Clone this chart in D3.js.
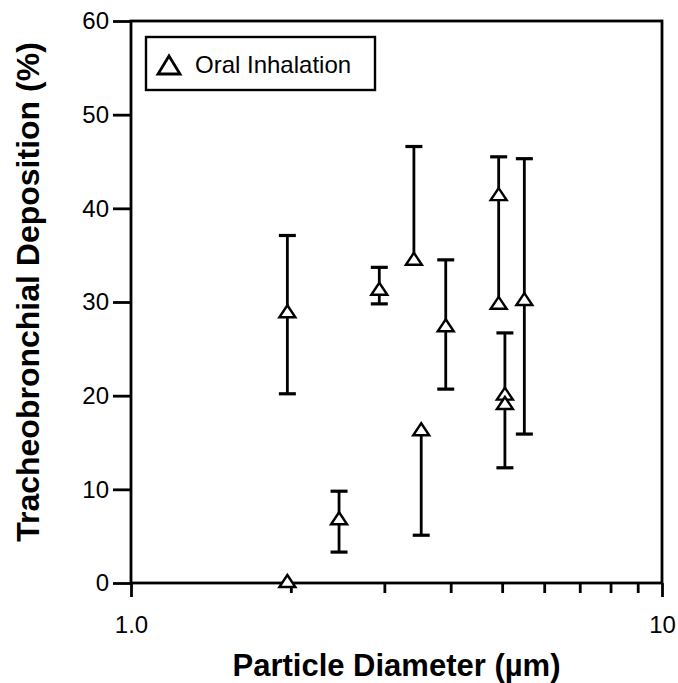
<!DOCTYPE html>
<html>
<head>
<meta charset="utf-8">
<script src="https://cdn.jsdelivr.net/npm/d3@7"></script>
<style>
  html, body { margin: 0; padding: 0; background: #fff; }
  svg { display: block; font-family: "Liberation Sans", Arial, Helvetica, sans-serif; }
</style>
</head>
<body>
<svg id="chart" width="678" height="683"></svg>
<script>
// ---- Data ----
const diameters  = [1.97, 1.97, 2.465, 2.935, 3.41, 3.52, 3.915, 4.925, 4.925, 5.06, 5.06, 5.505];
const deposition = [28.8, 0.0,  6.7,   31.2,  34.4, 16.2, 27.3,  41.3,  29.7,  20.0, 19.0, 30.1];
const errLow     = [20.2, null, 3.3,   29.8,  null, 5.1,  20.7,  null,  null,  null, 12.3, 15.9];
const errHigh    = [37.1, null, 9.8,   33.7,  46.6, null, 34.5,  null,  45.5,  26.7, null, 45.3];
const xMajorTicks = [1, 10];
const xMajorLabels = ["1.0", "10"];
const xMinorTicks = [2, 3, 4, 5, 6, 7, 8, 9];
const yTicks = [0, 10, 20, 30, 40, 50, 60];
const seriesName = "Oral Inhalation";
const xTitle = "Particle Diameter (µm)";
const yTitle = "Tracheobronchial Deposition (%)";

(function () {
const points = diameters.map((d, i) => ({ x: d, y: deposition[i], lo: errLow[i], hi: errHigh[i] }));

// ---- Layout ----
const mLeft = 131, mRight = 662, mTop = 21, mBottom = 583;
const svg = d3.select("#chart");
const x = d3.scaleLog().domain([1, 10]).range([mLeft, mRight]);
const y = d3.scaleLinear().domain([0, 60]).range([mBottom, mTop]);
const LW = 2.8;

// Frame
svg.append("rect")
  .attr("x", mLeft).attr("y", mTop)
  .attr("width", mRight - mLeft).attr("height", mBottom - mTop)
  .attr("fill", "none").attr("stroke", "#000").attr("stroke-width", LW);

// Y axis
const yAxis = svg.append("g").attr("transform", `translate(${mLeft},0)`)
  .call(d3.axisLeft(y).tickValues(yTicks).tickSize(18).tickPadding(4).tickFormat(d3.format("d")));
yAxis.select(".domain").remove();
yAxis.selectAll(".tick line").attr("stroke", "#000").attr("stroke-width", LW);
yAxis.selectAll(".tick text").attr("fill", "#000").style("font-size", "24px")
  .style("font-family", "'Liberation Sans', Arial, sans-serif");

// X axis major
const xAxis = svg.append("g").attr("transform", `translate(0,${mBottom})`)
  .call(d3.axisBottom(x).tickValues(xMajorTicks).tickSize(14).tickPadding(19)
    .tickFormat((d, i) => xMajorLabels[i]));
xAxis.select(".domain").remove();
xAxis.selectAll(".tick line").attr("stroke", "#000").attr("stroke-width", LW);
xAxis.selectAll(".tick text").attr("fill", "#000").style("font-size", "24px")
  .style("font-family", "'Liberation Sans', Arial, sans-serif");

// X axis minor
const xMinor = svg.append("g").attr("transform", `translate(0,${mBottom})`)
  .call(d3.axisBottom(x).tickValues(xMinorTicks).tickSize(10).tickFormat(""));
xMinor.select(".domain").remove();
xMinor.selectAll(".tick line").attr("stroke", "#000").attr("stroke-width", LW);

// Axis titles
svg.append("text")
  .attr("x", (mLeft + mRight) / 2).attr("y", 676)
  .attr("text-anchor", "middle")
  .style("font-size", "31px").style("font-weight", "bold")
  .text(xTitle);

svg.append("text")
  .attr("transform", `translate(39,${(mTop + mBottom) / 2 - 10}) rotate(-90)`)
  .attr("text-anchor", "middle")
  .style("font-size", "32px").style("font-weight", "bold")
  .text(yTitle);

// Error bars
const capW = 17;
const eb = svg.append("g");
points.forEach(p => {
  if (p.lo == null && p.hi == null) return;
  const lo = p.lo != null ? p.lo : p.y;
  const hi = p.hi != null ? p.hi : p.y;
  eb.append("line")
    .attr("x1", x(p.x)).attr("x2", x(p.x))
    .attr("y1", y(lo)).attr("y2", y(hi))
    .attr("stroke", "#000").attr("stroke-width", LW);
  [p.lo, p.hi].forEach(v => {
    if (v == null) return;
    eb.append("line")
      .attr("x1", x(p.x) - capW / 2).attr("x2", x(p.x) + capW / 2)
      .attr("y1", y(v)).attr("y2", y(v))
      .attr("stroke", "#000").attr("stroke-width", 3.2);
  });
});

// Triangle markers (centroid at data point)
function tri(w, h) {
  return `M0,${-2 * h / 3}L${w / 2},${h / 3}L${-w / 2},${h / 3}Z`;
}
svg.append("g").selectAll("path").data(points).join("path")
  .attr("d", tri(16, 12))
  .attr("transform", d => `translate(${x(d.x)},${y(d.y)})`)
  .attr("fill", "#fff").attr("stroke", "#000").attr("stroke-width", 2.4)
  .attr("stroke-linejoin", "miter");

// Legend
const lg = svg.append("g");
lg.append("rect").attr("x", 146).attr("y", 37).attr("width", 229).attr("height", 53)
  .attr("fill", "#fff").attr("stroke", "#000").attr("stroke-width", 2.4);
lg.append("path").attr("d", tri(22, 18)).attr("transform", "translate(169,68)")
  .attr("fill", "#fff").attr("stroke", "#000").attr("stroke-width", 2.8);
lg.append("text").attr("x", 195).attr("y", 73)
  .style("font-size", "24px").text(seriesName);
})();
</script>
</body>
</html>
